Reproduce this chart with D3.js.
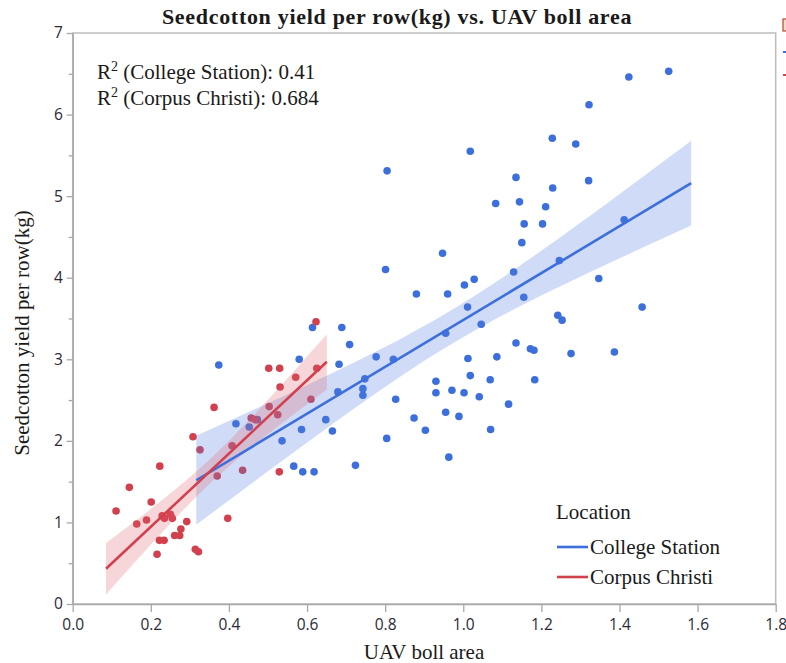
<!DOCTYPE html>
<html><head><meta charset="utf-8">
<script src="https://cdn.jsdelivr.net/npm/d3@7"></script>
<style>
html,body{margin:0;padding:0;background:#fff;}
svg{display:block;}
</style></head>
<body>
<script>
// ---- data ----
const csX = [1.526,1.424,1.322,1.228,1.288,1.018,0.805,1.135,1.321,1.229,1.083,1.144,1.211,1.156,1.203,1.150,1.412,0.947,0.801,1.129,1.028,1.003,0.880,0.960,1.246,1.347,1.011,1.155,1.046,0.955,1.242,1.253,1.458,1.135,1.172,1.181,1.276,1.387,1.086,1.069,1.183,1.012,1.018,1.041,1.116,1.070,0.989,0.955,0.930,0.930,0.971,1.002,0.874,0.903,0.963,0.804,0.724,0.827,0.821,0.777,0.748,0.743,0.743,0.679,0.648,0.665,0.586,0.536,0.566,0.589,0.618,0.614,0.689,0.709,0.580,0.682,0.374,0.418,0.452,0.473];
const csY = [6.53,6.46,6.12,5.71,5.64,5.55,5.31,5.23,5.19,5.10,4.91,4.93,4.87,4.66,4.66,4.43,4.71,4.30,4.10,4.07,3.98,3.91,3.80,3.80,4.21,3.99,3.64,3.76,3.43,3.32,3.54,3.48,3.64,3.20,3.13,3.11,3.07,3.09,3.03,2.75,2.75,3.01,2.80,2.54,2.45,2.14,2.30,2.35,2.73,2.59,2.62,2.59,2.28,2.13,1.80,2.03,1.70,2.51,3.00,3.03,2.76,2.64,2.56,2.60,2.26,2.12,2.14,2.00,1.69,1.62,1.62,3.39,3.39,3.18,3.00,2.94,2.93,2.21,2.17,2.26];
const ccX = [0.623,0.625,0.502,0.530,0.571,0.531,0.610,0.503,0.525,0.362,0.457,0.468,0.308,0.326,0.408,0.370,0.435,0.529,0.223,0.145,0.111,0.201,0.164,0.189,0.229,0.235,0.250,0.255,0.292,0.277,0.261,0.274,0.222,0.234,0.216,0.314,0.322,0.397];
const ccY = [3.46,2.89,2.89,2.89,2.78,2.66,2.51,2.42,2.32,2.41,2.28,2.26,2.05,1.89,1.94,1.57,1.64,1.62,1.69,1.43,1.14,1.25,0.98,1.03,1.08,1.05,1.10,1.05,1.01,0.92,0.84,0.84,0.78,0.78,0.61,0.67,0.64,1.05];
const locations = ["College Station","Corpus Christi"];
const r2Labels = ["0.41","0.684"];
const xTicks = [0,0.2,0.4,0.6,0.8,1.0,1.2,1.4,1.6,1.8];
const yTicks = [0,1,2,3,4,5,6,7];
const yMinorTicks = [0.5,1.5,2.5,3.5,4.5,5.5,6.5];
const titleText = "Seedcotton yield per row(kg) vs. UAV boll area";
const xLabel = "UAV boll area";
const yLabel = "Seedcotton yield per row(kg)";
const colors = ["#3d6fdc","#d2404e"];

// ---- layout ----
const W = 786, H = 663;
const L = 72.7, R = 775.7, T = 33, B = 604;
const svg = d3.select("body").append("svg").attr("width",W).attr("height",H);
const x = d3.scaleLinear().domain([0,1.8]).range([L,R]);
const y = d3.scaleLinear().domain([0,7]).range([B,T]);
const serif = "'Liberation Serif','Times New Roman',serif";
const sans = "'Open Sans','Noto Sans',sans-serif";

// frame
svg.append("rect").attr("x",L).attr("y",T).attr("width",R-L).attr("height",B-T)
  .attr("fill","none").attr("stroke","#bdbdbd").attr("stroke-width",1.5);

// axes
const xAxis = svg.append("g").attr("transform",`translate(0,${B})`)
  .call(d3.axisBottom(x).tickValues(xTicks).tickFormat(d3.format(".1f")).tickSize(8).tickSizeOuter(0));
const yAxis = svg.append("g").attr("transform",`translate(${L},0)`)
  .call(d3.axisLeft(y).tickValues(yTicks).tickFormat(d3.format("d")).tickSize(6).tickSizeOuter(0));
svg.append("g").attr("transform",`translate(${L},0)`)
  .call(d3.axisLeft(y).tickValues(yMinorTicks).tickFormat("").tickSize(4).tickSizeOuter(0))
  .call(g=>g.select(".domain").remove());
svg.selectAll(".domain").attr("stroke","#a8a8a8").attr("stroke-width",1.5);
svg.selectAll(".tick line").attr("stroke","#a8a8a8").attr("stroke-width",1.3);
xAxis.selectAll("text").attr("font-family",sans).attr("font-size",15.5).attr("fill","#2a2a3a").attr("dy","0.95em");
yAxis.selectAll("text").attr("font-family",sans).attr("font-size",15.5).attr("fill","#2a2a3a").attr("dx","-0.05em");

// points
const groups = [
  {name:locations[0], xs:csX, ys:csY, color:colors[0]},
  {name:locations[1], xs:ccX, ys:ccY, color:colors[1]}
];
const gPts = svg.append("g");
groups.forEach(g=>{
  gPts.selectAll(null).data(g.xs.map((v,i)=>[v,g.ys[i]])).enter().append("circle")
    .attr("cx",d=>x(d[0])).attr("cy",d=>y(d[1])).attr("r",3.8).attr("fill",g.color);
});

// regression + 95% CI of mean
function tcrit(df){ const z=1.959964; return z + (z*z*z+z)/(4*df) + (5*Math.pow(z,5)+16*z*z*z+3*z)/(96*df*df); }
function fit(xs,ys){
  const n=xs.length, mx=d3.mean(xs), my=d3.mean(ys);
  let sxx=0,sxy=0; xs.forEach((v,i)=>{sxx+=(v-mx)**2; sxy+=(v-mx)*(ys[i]-my);});
  const b=sxy/sxx, a=my-b*mx;
  let sse=0; xs.forEach((v,i)=>{sse+=(ys[i]-a-b*v)**2;});
  const s=Math.sqrt(sse/(n-2)), t=tcrit(n-2);
  const mn=d3.min(xs), mxv=d3.max(xs), pad=0.05*(mxv-mn);
  const x0=mn-pad, x1=mxv+pad;
  const pts=d3.range(0,51).map(k=>{const xv=x0+(x1-x0)*k/50; const yh=a+b*xv;
    const h=t*s*Math.sqrt(1/n+(xv-mx)**2/sxx); return {x:xv,y:yh,lo:yh-h,hi:yh+h};});
  return {a,b,x0,x1,pts};
}
const bandFill = ["rgba(80,125,225,0.27)","rgba(225,90,105,0.25)"];
const fits = groups.map(g=>fit(g.xs,g.ys));
fits.forEach((f,i)=>{
  svg.append("path").datum(f.pts)
    .attr("d",d3.area().x(d=>x(d.x)).y0(d=>y(d.lo)).y1(d=>y(d.hi)))
    .attr("fill",bandFill[i]);
});
fits.forEach((f,i)=>{
  svg.append("line").attr("x1",x(f.x0)).attr("y1",y(f.a+f.b*f.x0))
    .attr("x2",x(f.x1)).attr("y2",y(f.a+f.b*f.x1))
    .attr("stroke",colors[i]).attr("stroke-width",2.6);
});

// title
svg.append("text").attr("x",397).attr("y",24).attr("text-anchor","middle")
  .attr("font-family",serif).attr("font-weight","bold").attr("font-size",22).attr("letter-spacing","0.7px")
  .attr("fill","#1a1a1a").text(titleText);
// axis labels
svg.append("text").attr("x",424).attr("y",659).attr("text-anchor","middle")
  .attr("font-family",serif).attr("font-size",21).attr("fill","#1a1a1a").text(xLabel);
svg.append("text").attr("transform","translate(29,333) rotate(-90)").attr("text-anchor","middle")
  .attr("font-family",serif).attr("font-size",21).attr("fill","#1a1a1a").text(yLabel);

// R2 annotation
locations.forEach((loc,i)=>{
  const t = svg.append("text").attr("x",97).attr("y",79+i*26)
    .attr("font-family",serif).attr("font-size",21).attr("fill","#1a1a1a");
  t.append("tspan").text("R");
  t.append("tspan").attr("font-size",14).attr("dy",-8).text("2");
  t.append("tspan").attr("dy",8).text(` (${loc}): ${r2Labels[i]}`);
});

// legend
svg.append("text").attr("x",556).attr("y",519).attr("font-family",serif).attr("font-size",21).attr("fill","#1a1a1a").text("Location");
locations.forEach((loc,i)=>{
  const yy = 547+i*30;
  svg.append("line").attr("x1",557).attr("x2",588).attr("y1",yy).attr("y2",yy).attr("stroke",colors[i]).attr("stroke-width",2.6);
  svg.append("text").attr("x",590).attr("y",yy+7).attr("font-family",serif).attr("font-size",21).attr("fill","#1a1a1a").text(loc);
});

// cut-off fragments at right edge
svg.append("rect").attr("x",783).attr("y",19).attr("width",4).attr("height",12).attr("fill","#f4d8cc").attr("stroke","#b5482f").attr("stroke-width",1.2);
svg.append("line").attr("x1",783).attr("x2",787).attr("y1",52).attr("y2",52).attr("stroke",colors[0]).attr("stroke-width",2);
svg.append("line").attr("x1",783).attr("x2",787).attr("y1",75).attr("y2",75).attr("stroke",colors[1]).attr("stroke-width",2);
</script>
</body></html>
